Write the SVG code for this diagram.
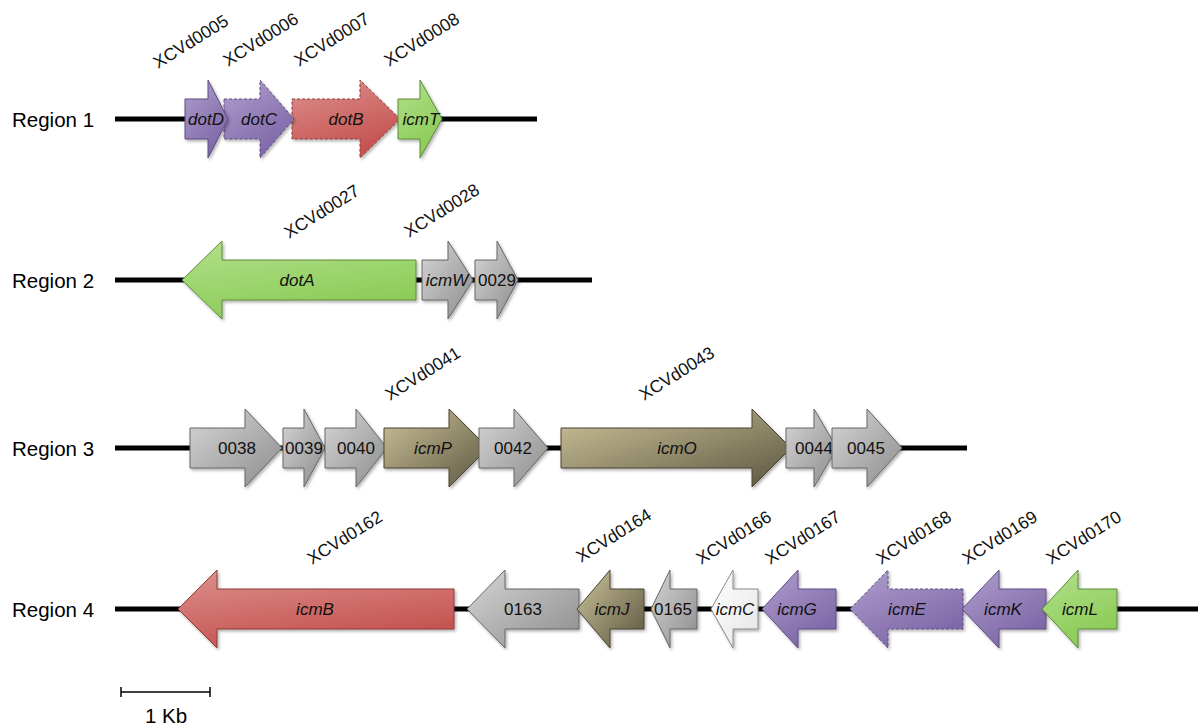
<svg xmlns="http://www.w3.org/2000/svg" width="1198" height="725" viewBox="0 0 1198 725">
<defs>
<linearGradient id="gPurple" x1="0" y1="0" x2="0.6" y2="1"><stop offset="0" stop-color="#b1a0cd"/><stop offset="1" stop-color="#7d65a7"/></linearGradient>
<linearGradient id="gRed" x1="0" y1="0" x2="0.4" y2="1"><stop offset="0" stop-color="#dc918f"/><stop offset="1" stop-color="#c4524f"/></linearGradient>
<linearGradient id="gGreen" x1="0" y1="0" x2="0.4" y2="1"><stop offset="0" stop-color="#b3e08c"/><stop offset="1" stop-color="#8bcb56"/></linearGradient>
<linearGradient id="gGray" x1="0" y1="0" x2="1" y2="1"><stop offset="0" stop-color="#d6d6d6"/><stop offset="1" stop-color="#8c8c8c"/></linearGradient>
<linearGradient id="gOlive" x1="0" y1="0" x2="1" y2="1"><stop offset="0" stop-color="#cdc49a"/><stop offset="1" stop-color="#5b5540"/></linearGradient>
<linearGradient id="gWhite" x1="0" y1="0" x2="1" y2="1"><stop offset="0" stop-color="#ffffff"/><stop offset="1" stop-color="#e6e6e6"/></linearGradient>
<filter id="sh" x="-10%" y="-10%" width="130%" height="130%"><feDropShadow dx="1.5" dy="2" stdDeviation="1.5" flood-color="#000" flood-opacity="0.3"/></filter>
</defs>
<style>
.dna{stroke:#000;stroke-width:5;fill:none}
.gene{stroke-width:1;filter:url(#sh)}
.purple{fill:url(#gPurple);stroke:#5f4c80}
.red{fill:url(#gRed);stroke:#8e3b39}
.green{fill:url(#gGreen);stroke:#5e8a3c}
.gray{fill:url(#gGray);stroke:#666}
.olive{fill:url(#gOlive);stroke:#4a4533}
.white{fill:url(#gWhite);stroke:#888}
.dash{stroke-dasharray:3 2}
.gl{font-family:"Liberation Sans",Arial,sans-serif;font-size:17px;fill:#111;text-anchor:middle}
.it{font-style:italic}
.lt{font-family:"Liberation Sans",Arial,sans-serif;font-size:17.5px;fill:#111}
.rl{font-family:"Liberation Sans",Arial,sans-serif;font-size:20.5px;fill:#000}
</style>

<g id="backbones">
<line class="dna" x1="115" y1="119" x2="537" y2="119"/>
<line class="dna" x1="115" y1="280" x2="592" y2="280"/>
<line class="dna" x1="115" y1="448" x2="967" y2="448"/>
<line class="dna" x1="115" y1="609" x2="1198" y2="609"/>
</g>

<g id="region-labels">
<text class="rl" x="12" y="127">Region 1</text>
<text class="rl" x="12" y="288">Region 2</text>
<text class="rl" x="12" y="456">Region 3</text>
<text class="rl" x="12" y="617">Region 4</text>
</g>

<!-- Region 1 -->
<g id="dotB"><path class="gene red dash" d="M292,99H360V80L400,119L360,158V139H292Z"/><text class="gl it" x="346" y="125">dotB</text></g>
<g id="dotC"><path class="gene purple dash" d="M224,99H260V80L294,119L260,158V139H224Z"/><text class="gl it" x="259" y="125">dotC</text></g>
<g id="dotD"><path class="gene purple" d="M185,99H208V80L228,119L208,158V139H185Z"/><text class="gl it" x="206" y="125">dotD</text></g>
<g id="icmT"><path class="gene green" d="M398,99H420V80L442,119L420,158V139H398Z"/><text class="gl it" x="421" y="125">icmT</text></g>

<!-- Region 2 -->
<g id="dotA"><path class="gene green" d="M416,260H222V241L182,280L222,319V300H416Z"/><text class="gl it" x="297" y="286">dotA</text></g>
<g id="icmW"><path class="gene gray" d="M422,260H448V241L473,280L448,319V300H422Z"/><text class="gl it" x="447" y="286">icmW</text></g>
<g id="g0029"><path class="gene gray" d="M475,260H497V241L518,280L497,319V300H475Z"/><text class="gl" x="497" y="286">0029</text></g>

<!-- Region 3 -->
<g id="g0038"><path class="gene gray" d="M190,428H245V409L282,448L245,487V468H190Z"/><text class="gl" x="237" y="454">0038</text></g>
<g id="g0039"><path class="gene gray" d="M283,428H304V409L325,448L304,487V468H283Z"/><text class="gl" x="304" y="454">0039</text></g>
<g id="g0040"><path class="gene gray" d="M325,428H356V409L387,448L356,487V468H325Z"/><text class="gl" x="356" y="454">0040</text></g>
<g id="icmP"><path class="gene olive" d="M384,428H449V409L488,448L449,487V468H384Z"/><text class="gl it" x="433" y="454">icmP</text></g>
<g id="g0042"><path class="gene gray" d="M479,428H514V409L548,448L514,487V468H479Z"/><text class="gl" x="513" y="454">0042</text></g>
<g id="icmO"><path class="gene olive" d="M561,428H752V409L791,448L752,487V468H561Z"/><text class="gl it" x="677" y="454">icmO</text></g>
<g id="g0044"><path class="gene gray" d="M786,428H814V409L837,448L814,487V468H786Z"/><text class="gl" x="814" y="454">0044</text></g>
<g id="g0045"><path class="gene gray" d="M832,428H867V409L902,448L867,487V468H832Z"/><text class="gl" x="866" y="454">0045</text></g>

<!-- Region 4 -->
<g id="icmB"><path class="gene red" d="M454,589H217V570L178,609L217,648V629H454Z"/><text class="gl it" x="315" y="615">icmB</text></g>
<g id="g0163"><path class="gene gray" d="M579,589H505V570L467,609L505,648V629H579Z"/><text class="gl" x="523" y="615">0163</text></g>
<g id="icmJ"><path class="gene olive" d="M644,589H610V570L577,609L610,648V629H644Z"/><text class="gl it" x="612" y="615">icmJ</text></g>
<g id="g0165"><path class="gene gray" d="M697,589H670V570L651,609L670,648V629H697Z"/><text class="gl" x="673" y="615">0165</text></g>
<g id="icmC"><path class="gene white" d="M758,589H733V570L711,609L733,648V629H758Z"/><text class="gl it" x="735" y="615">icmC</text></g>
<g id="icmG"><path class="gene purple" d="M836,589H798V570L762,609L798,648V629H836Z"/><text class="gl it" x="797" y="615">icmG</text></g>
<g id="icmE"><path class="gene purple dash" d="M963,589H888V570L850,609L888,648V629H963Z"/><text class="gl it" x="907" y="615">icmE</text></g>
<g id="icmK"><path class="gene purple" d="M1046,589H999V570L962,609L999,648V629H1046Z"/><text class="gl it" x="1003" y="615">icmK</text></g>
<g id="icmL"><path class="gene green" d="M1117,589H1078V570L1042,609L1078,648V629H1117Z"/><text class="gl it" x="1080" y="615">icmL</text></g>

<g id="locus-tags">
<text class="lt" x="158" y="69" transform="rotate(-32 158 69)">XCVd0005</text>
<text class="lt" x="228" y="67" transform="rotate(-32 228 67)">XCVd0006</text>
<text class="lt" x="299" y="67" transform="rotate(-32 299 67)">XCVd0007</text>
<text class="lt" x="389" y="67" transform="rotate(-32 389 67)">XCVd0008</text>
<text class="lt" x="289" y="239" transform="rotate(-32 289 239)">XCVd0027</text>
<text class="lt" x="409" y="238" transform="rotate(-32 409 238)">XCVd0028</text>
<text class="lt" x="390" y="401" transform="rotate(-32 390 401)">XCVd0041</text>
<text class="lt" x="644" y="401" transform="rotate(-32 644 401)">XCVd0043</text>
<text class="lt" x="312" y="565" transform="rotate(-32 312 565)">XCVd0162</text>
<text class="lt" x="581" y="563" transform="rotate(-32 581 563)">XCVd0164</text>
<text class="lt" x="701" y="565" transform="rotate(-32 701 565)">XCVd0166</text>
<text class="lt" x="770" y="565" transform="rotate(-32 770 565)">XCVd0167</text>
<text class="lt" x="881" y="565" transform="rotate(-32 881 565)">XCVd0168</text>
<text class="lt" x="967" y="565" transform="rotate(-32 967 565)">XCVd0169</text>
<text class="lt" x="1051" y="565" transform="rotate(-32 1051 565)">XCVd0170</text>
</g>

<g id="scale-bar">
<line x1="121" y1="692" x2="210" y2="692" stroke="#000" stroke-width="1.5"/>
<line x1="121" y1="687" x2="121" y2="697" stroke="#000" stroke-width="1.5"/>
<line x1="210" y1="687" x2="210" y2="697" stroke="#000" stroke-width="1.5"/>
<text class="rl" x="166" y="723" text-anchor="middle">1 Kb</text>
</g>
</svg>
